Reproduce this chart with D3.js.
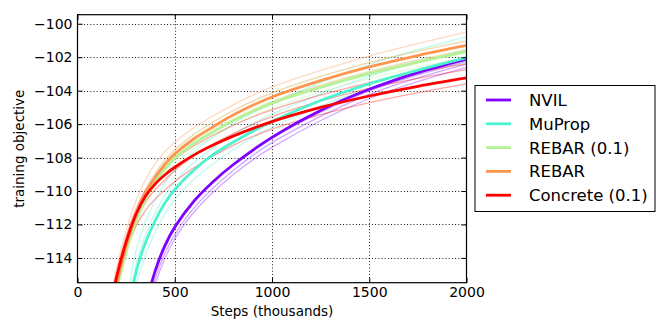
<!DOCTYPE html>
<html><head><meta charset="utf-8">
<script src="https://cdn.jsdelivr.net/npm/d3@7"></script>
<style>body{margin:0;background:#fff} svg{display:block} text{font-family:"DejaVu Sans",sans-serif;fill:#000}</style>
</head><body><svg id="c" width="665" height="329"></svg>
<script>
// ---- data ----
const seriesNames = ["NVIL", "MuProp", "REBAR (0.1)", "REBAR", "Concrete (0.1)"];
const seriesColors = ["#8000ff", "#4df2ce", "#b3f296", "#ff964f", "#ff0000"];
const steps = [150, 200, 250, 300, 350, 400, 450, 500, 600, 700, 800, 1000, 1250, 1500, 1750, 2000];
const nvil     = [-132, -127, -122.9, -119.5, -116.88, -114.76, -113.26, -112.17, -110.59, -109.41, -108.43, -106.79, -105.18, -103.92, -102.92, -102.11];
const muprop   = [-128, -122.4, -118.2, -114.9, -113.06, -111.75, -110.7, -109.91, -108.73, -107.8, -107.08, -105.85, -104.59, -103.59, -102.77, -102.02];
const rebar01  = [-118.9, -115.95, -113.6, -111.78, -110.45, -109.45, -108.67, -108.05, -107.15, -106.45, -105.8, -104.76, -103.8, -102.98, -102.3, -101.67];
const rebar    = [-118.55, -115.65, -113.3, -111.49, -110.16, -109.16, -108.39, -107.78, -106.86, -106.14, -105.45, -104.38, -103.4, -102.58, -101.9, -101.3];
const concrete = [-118.0, -115.2, -113.04, -111.41, -110.3, -109.57, -109.03, -108.58, -107.84, -107.24, -106.72, -105.85, -105.0, -104.32, -103.74, -103.24];

// individual runs (faint lines)
const runSteps = [150, 200, 250, 300, 350, 400, 450, 500, 600, 800, 1000, 1500, 2000];
const nvilRuns = [
  [-132.5, -127.5, -123.4, -120.0, -117.38, -115.21, -113.71, -112.62, -110.99, -108.78, -107.11, -104.22, -102.41],
  [-132.9, -127.9, -123.8, -120.35, -117.68, -115.56, -114.01, -112.87, -111.24, -109.03, -107.39, -104.47, -102.61],
  [-131.8, -126.8, -122.7, -119.3, -116.68, -114.61, -113.11, -112.07, -110.54, -108.43, -106.84, -104.02, -102.26]
];
const mupropRuns = [
  [-126.7, -121.1, -116.9, -113.6, -111.81, -110.55, -109.5, -108.76, -107.63, -105.98, -104.75, -102.44, -100.77],
  [-128.9, -123.3, -119.05, -115.7, -113.81, -112.45, -111.35, -110.51, -109.28, -107.53, -106.2, -103.84, -102.22],
  [-127.55, -121.95, -117.75, -114.45, -112.61, -111.3, -110.25, -109.46, -108.28, -106.63, -105.4, -103.14, -101.57]
];
const rebar01Runs = [
  [-118.5, -115.55, -113.2, -111.33, -109.95, -108.95, -108.17, -107.55, -106.6, -105.2, -104.16, -102.33, -100.97],
  [-119.2, -116.25, -113.9, -112.08, -110.75, -109.75, -108.97, -108.35, -107.45, -106.1, -105.06, -103.28, -102.02],
  [-118.75, -115.8, -113.45, -111.63, -110.3, -109.3, -108.52, -107.9, -107.0, -105.65, -104.61, -102.83, -101.52]
];
const rebarRuns = [
  [-117.55, -114.65, -112.35, -110.59, -109.31, -108.36, -107.64, -107.08, -106.21, -104.85, -103.78, -101.93, -100.5],
  [-118.85, -115.95, -113.6, -111.79, -110.46, -109.46, -108.69, -108.08, -107.16, -105.75, -104.68, -102.88, -101.6],
  [-118.3, -115.4, -113.05, -111.24, -109.91, -108.91, -108.14, -107.53, -106.61, -105.2, -104.13, -102.33, -101.05]
];
const concreteRuns = [
  [-118.4, -115.65, -113.59, -112.11, -111.15, -110.47, -109.93, -109.43, -108.59, -107.27, -106.3, -104.72, -103.59],
  [-117.7, -114.9, -112.74, -111.11, -109.95, -109.17, -108.58, -108.08, -107.29, -106.07, -105.15, -103.52, -102.39],
  [-118.15, -115.35, -113.24, -111.71, -110.65, -109.92, -109.33, -108.78, -107.89, -106.57, -105.55, -103.87, -102.74]
];
const xTicks = [0, 500, 1000, 1500, 2000];
const yTicks = [-114, -112, -110, -108, -106, -104, -102, -100];
const xLabel = "Steps (thousands)";
const yLabel = "training objective";

const mainSeries = [nvil, muprop, rebar01, rebar, concrete];
const runSeries = [nvilRuns, mupropRuns, rebar01Runs, rebarRuns, concreteRuns];

// ---- layout ----
const L = 77.5, R = 466.5, T = 14.7, B = 282.7;
const svg = d3.select("#c");
const x = d3.scaleLinear().domain([0, 2000]).range([L, R]);
const y = d3.scaleLinear().domain([-115.48, -99.46]).range([B, T]);

svg.append("defs").append("clipPath").attr("id", "clip")
  .append("rect").attr("x", L).attr("y", T).attr("width", R - L).attr("height", B - T);

// grid
const grid = svg.append("g").attr("stroke", "#000").attr("stroke-width", 0.9).attr("stroke-dasharray", "1,2.2");
grid.selectAll(".gx").data(xTicks.slice(1, -1)).join("line")
  .attr("x1", d => Math.round(x(d)) + 0.5).attr("x2", d => Math.round(x(d)) + 0.5).attr("y1", T).attr("y2", B);
grid.selectAll(".gy").data(yTicks).join("line")
  .attr("y1", d => Math.round(y(d)) + 0.5).attr("y2", d => Math.round(y(d)) + 0.5).attr("x1", L).attr("x2", R);

// lines
const plot = svg.append("g").attr("clip-path", "url(#clip)");
const lineGen = (xs) => d3.line().x((d, i) => x(xs[i])).y(d => y(d)).curve(d3.curveCatmullRom.alpha(0.5));

runSeries.forEach((runs, si) => {
  runs.forEach(r => {
    plot.append("path").attr("d", lineGen(runSteps)(r)).attr("fill", "none")
      .attr("stroke", seriesColors[si]).attr("stroke-opacity", 0.35).attr("stroke-width", 1.3);
  });
});
mainSeries.forEach((s, si) => {
  plot.append("path").attr("d", lineGen(steps)(s)).attr("fill", "none")
    .attr("stroke", seriesColors[si]).attr("stroke-width", 2.8);
});

// axes (inside ticks)
const fmt = d3.format("d");
const ax = svg.append("g");
const axB = ax.append("g").attr("transform", `translate(0,${B})`)
  .call(d3.axisBottom(x).tickValues(xTicks).tickSizeInner(-5).tickSizeOuter(0).tickPadding(4.5).tickFormat(fmt));
ax.append("g").attr("transform", `translate(0,${T})`)
  .call(d3.axisTop(x).tickValues(xTicks).tickSizeInner(-5).tickSizeOuter(0).tickFormat(""));
ax.append("g").attr("transform", `translate(${L},0)`)
  .call(d3.axisLeft(y).tickValues(yTicks).tickSizeInner(-5).tickSizeOuter(0).tickPadding(5).tickFormat(fmt));
ax.append("g").attr("transform", `translate(${R},0)`)
  .call(d3.axisRight(y).tickValues(yTicks).tickSizeInner(-5).tickSizeOuter(0).tickFormat(""));
ax.selectAll(".domain").remove();
ax.selectAll(".tick line").attr("stroke", "#000").attr("stroke-width", 1);
ax.selectAll(".tick text").attr("font-size", 14).attr("font-family", "DejaVu Sans");
axB.selectAll(".tick text").attr("dy", "0.71em");

// frame
svg.append("rect").attr("x", L).attr("y", T).attr("width", R - L).attr("height", B - T)
  .attr("fill", "none").attr("stroke", "#000").attr("stroke-width", 1.2);

// labels
svg.append("text").attr("x", (L + R) / 2).attr("y", 316).attr("text-anchor", "middle")
  .attr("font-size", 13.5).text(xLabel);
svg.append("text").attr("transform", `translate(24,${(T + B) / 2}) rotate(-90)`).attr("text-anchor", "middle")
  .attr("font-size", 13.5).text(yLabel);

// legend
const lg = svg.append("g");
lg.append("rect").attr("x", 475).attr("y", 85.5).attr("width", 180).attr("height", 126)
  .attr("fill", "#fff").attr("stroke", "#000").attr("stroke-width", 1);
seriesNames.forEach((n, i) => {
  const yy = 100 + i * 23.8;
  lg.append("line").attr("x1", 486).attr("x2", 511).attr("y1", yy).attr("y2", yy)
    .attr("stroke", seriesColors[i]).attr("stroke-width", 2.8);
  lg.append("text").attr("x", 529).attr("y", yy).attr("dy", "0.36em").attr("font-size", 16.5).text(n);
});
</script></body></html>
